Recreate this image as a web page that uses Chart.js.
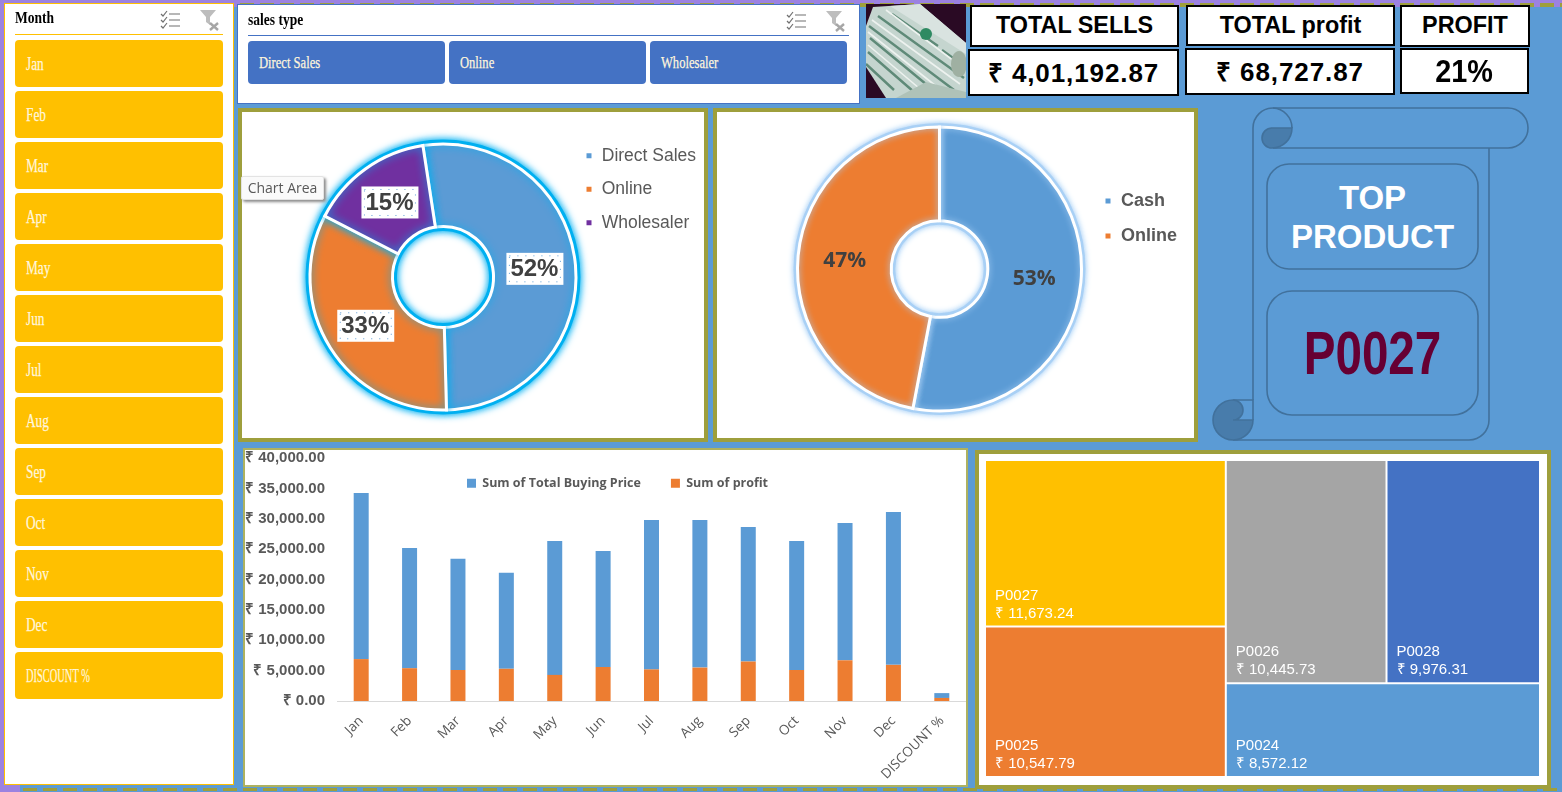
<!DOCTYPE html>
<html>
<head>
<meta charset="utf-8">
<title>Sales dashboard</title>
<script src="https://cdn.jsdelivr.net/npm/chart.js@4"></script>
<style>
  html, body { margin: 0; padding: 0; }
  body { width: 1562px; height: 792px; position: relative; overflow: hidden; background: #5B9BD5; font-family: "Liberation Sans", Arial, sans-serif; }
  .abs, canvas { position: absolute; box-sizing: border-box; }
  .panel { position: absolute; box-sizing: border-box; background: #fff; }
  .olive { border: 4px solid #9E9F3C; }
  .thin { border: 2px solid #AEB25F; }
  .slicerName { position: absolute; font: bold 16.5px "Liberation Serif", serif; color: #000; transform: scaleX(.82); transform-origin: left center; white-space: nowrap; }
  .btn { position: absolute; box-sizing: border-box; border-radius: 4px; color: #FFF6DC; }
  .btn span { position: absolute; left: 11px; top: 50%; transform: translateY(-50%) scaleX(.74); transform-origin: left center; font: 18px "Liberation Serif", serif; white-space: nowrap; -webkit-text-stroke: .25px #FFF6DC; }
  .btn span.long { transform: translateY(-50%) scaleX(.58); }
  .kpi { position: absolute; box-sizing: border-box; border: 2px solid #000; background: #fff; color: #000; font-weight: bold; text-align: center; white-space: nowrap; }
  .kpi.money { font-size: 26px; line-height: 44px; letter-spacing: .9px; }
  .kpi.head { font-size: 23.4px; line-height: 37px; }
  .hint { position: absolute; left: 241px; top: 176px; width: 83px; height: 24px; box-sizing: border-box; background: #fafafa; border: 1px solid #e3e3e3; border-radius: 2px; box-shadow: 2px 2px 3px #8a8a8a; font: 14px/22px "Open Sans", sans-serif; color: #595959; text-align: center; }
</style>
</head>
<body>
<div class="abs" style="left:0;top:0;width:1562px;height:3px;background:#9C82E0"></div>
<div class="abs" style="left:0;top:3px;width:1562px;height:4px;background:repeating-linear-gradient(90deg,#9E9F3C 0 14px,#9C82E0 14px 20px)"></div>
<div class="abs" style="left:0;top:0;width:4px;height:792px;background:#9C82E0"></div>
<div class="abs" style="left:0;top:785px;width:20px;height:7px;background:#9C82E0"></div>
<div class="abs" style="left:23px;top:788px;width:1539px;height:3px;background:repeating-linear-gradient(90deg,#9E9F3C 0 14px,#5B9BD5 14px 20px)"></div>

<div class="panel" id="monthPanel" style="left:4px;top:3px;width:230px;height:782px;border:1px solid #FFC000">
  <div class="slicerName" style="left:10px;top:4px">Month</div>
  <div class="abs" style="left:10px;top:30px;width:208px;height:1px;background:#FFC000"></div>
</div>
<div class="panel" id="typePanel" style="left:237px;top:4px;width:623px;height:100px;border:1px solid #4472C4">
  <div class="slicerName" style="left:10px;top:5px">sales type</div>
  <div class="abs" style="left:10px;top:30px;width:601px;height:1px;background:#4472C4"></div>
</div>

<svg class="abs" style="left:160px;top:9px" width="62" height="22" fill="none">
  <path d="M1 5l2 2 4-5M1 11l2 2 4-5M1 17l2 2 4-5" stroke="#707070" stroke-width="1.2"/>
  <path d="M9 5h11M9 11h11M9 17h11" stroke="#707070" stroke-width="1.2"/>
  <path d="M40 1h16l-6 7v8l-4-3V8z" fill="#BDBDBD"/>
  <path d="M50 14l8 7M58 14l-8 7" stroke="#A6A6A6" stroke-width="2.4"/>
</svg>
<svg class="abs" style="left:786px;top:10px" width="62" height="22" fill="none">
  <path d="M1 5l2 2 4-5M1 11l2 2 4-5M1 17l2 2 4-5" stroke="#707070" stroke-width="1.2"/>
  <path d="M9 5h11M9 11h11M9 17h11" stroke="#707070" stroke-width="1.2"/>
  <path d="M40 1h16l-6 7v8l-4-3V8z" fill="#BDBDBD"/>
  <path d="M50 14l8 7M58 14l-8 7" stroke="#A6A6A6" stroke-width="2.4"/>
</svg>

<svg class="abs" style="left:866px;top:4px" width="100" height="94">
  <defs><filter id="soft"><feGaussianBlur stdDeviation=".7"/></filter></defs>
  <rect width="100" height="94" fill="#2A0A24"/>
  <g filter="url(#soft)">
    <polygon points="0,22 7,3 54,0 100,39 100,94 20,94 0,63" fill="#C5D5CF"/>
    <polygon points="24,2 54,0 100,39 100,50" fill="#D9E3E0"/>
    <g stroke="#5E8A78" stroke-width="2.4" fill="none">
      <path d="M3 22L88 86M4 34L72 90M2 48L48 88M12 12L98 74M26 10L72 42M76 46L98 62M0 60L28 86"/>
    </g>
    <g stroke="#EDF2EF" stroke-width="1.6" fill="none">
      <path d="M2 28L80 90M2 41L60 90M6 16L94 80M20 6L100 66"/>
    </g>
    <circle cx="60" cy="30" r="6" fill="#2F8A62"/>
    <ellipse cx="93" cy="60" rx="8" ry="13" fill="#9FB0A2"/>
    <polygon points="30,94 100,94 100,88 60,78" fill="#AFC2B8"/>
  </g>
</svg>

<div class="kpi head" style="left:970px;top:5px;width:209px;height:42px">TOTAL SELLS</div>
<div class="kpi money" style="left:968px;top:49px;width:211px;height:47px">₹ 4,01,192.87</div>
<div class="kpi head" style="left:1186px;top:5px;width:209px;height:41px">TOTAL profit</div>
<div class="kpi money" style="left:1185px;top:48px;width:210px;height:47px">₹ 68,727.87</div>
<div class="kpi head" style="left:1400px;top:5px;width:130px;height:42px">PROFIT</div>
<div class="kpi" style="left:1400px;top:48px;width:129px;height:46px;font-size:32px;line-height:43px"><span style="display:inline-block;transform:scaleX(.9)">21%</span></div>

<div class="panel olive" style="left:238px;top:108px;width:470px;height:334px"></div>
<div class="panel olive" style="left:713px;top:108px;width:485px;height:334px"></div>
<div class="panel thin" style="left:243px;top:448px;width:725px;height:339px"></div>
<div class="panel olive" style="left:975px;top:450px;width:576px;height:339px"></div>

<svg class="abs" style="left:1205px;top:100px" width="340" height="350" viewBox="1205 100 340 350" fill="none" stroke="#41719C" stroke-width="1.6">
  <path d="M1253 400V128A20 20 0 0 1 1273 108H1508A20 20 0 0 1 1508 148H1273"/>
  <path d="M1489 148V420A20 20 0 0 1 1469 440H1233"/>
  <path d="M1273 108A20 20 0 0 1 1292 128"/>
  <path d="M1292 128H1272A10 10 0 0 0 1272 148A20 20 0 0 0 1292 128Z" fill="#487CAB"/>
  <path d="M1233 400H1253V420"/>
  <path d="M1233 400A20 20 0 0 0 1233 440A20 20 0 0 0 1253 420H1233A10 10 0 0 0 1233 400Z" fill="#487CAB"/>
  <rect x="1267" y="164" width="211" height="105" rx="22"/>
  <rect x="1267" y="291" width="211" height="124" rx="25"/>
</svg>
<div class="abs" style="left:1267px;top:178px;width:211px;text-align:center;font-weight:bold;font-size:33px;line-height:39px;color:#fff">TOP<br>PRODUCT</div>
<div class="abs" style="left:1267px;top:318px;width:211px;text-align:center;font-weight:bold;font-size:61px;line-height:70px;color:#660033;transform:scaleX(.78)">P0027</div>

<canvas id="typeChart" width="461" height="326" style="left:242px;top:112px"></canvas>
<canvas id="payChart" width="477" height="326" style="left:717px;top:112px"></canvas>
<canvas id="monthChart" width="721" height="348" style="left:245px;top:437px"></canvas>
<canvas id="productChart" width="555" height="317" style="left:985px;top:460px"></canvas>
<div class="hint">Chart Area</div>

<script>
const months = ["Jan", "Feb", "Mar", "Apr", "May", "Jun", "Jul", "Aug", "Sep", "Oct", "Nov", "Dec", "DISCOUNT %"];
const salesTypes = ["Direct Sales", "Online", "Wholesaler"];
const salesTypeShare = [52, 33, 15];
const payTypes = ["Cash", "Online"];
const payShare = [53, 47];
const buyingPrice = [27350, 19800, 18300, 15800, 22050, 19100, 24600, 24300, 22150, 21250, 22600, 25150, 800];
const profit = [6900, 5400, 5100, 5300, 4300, 5600, 5200, 5500, 6500, 5100, 6700, 5950, 500];
const products = ["P0027", "P0025", "P0026", "P0028", "P0024"];
const productProfit = [11673.24, 10547.79, 10445.73, 9976.31, 8572.12];
const productColors = ["#FFC000", "#ED7D31", "#A5A5A5", "#4472C4", "#5B9BD5"];

// slicer buttons
const monthPanel = document.getElementById("monthPanel");
months.forEach((m, i) => {
  monthPanel.insertAdjacentHTML("beforeend",
    `<div class="btn" style="left:10px;top:${36 + i * 51}px;width:208px;height:47px;background:#FFC000"><span class="${m.length > 3 ? "long" : ""}">${m}</span></div>`);
});
const typePanel = document.getElementById("typePanel");
salesTypes.forEach((t, i) => {
  typePanel.insertAdjacentHTML("beforeend",
    `<div class="btn" style="left:${10 + i * 201}px;top:36px;width:197px;height:43px;background:#4472C4"><span style="font-size:17px">${t}</span></div>`);
});

// moves the legend to a fixed spot without taking room from the plot
const placeLegend = {
  id: "placeLegend",
  beforeLayout(chart) {
    const legend = chart.legend;
    if (legend._wrapped) return;
    const fit = legend.fit;
    legend.fit = function () { fit.call(this); if (this.options.position === "top") this.height = 0; };
    legend._wrapped = true;
  },
  afterLayout(chart, args, opts) {
    const legend = chart.legend;
    const pad = legend.options.labels.padding;
    legend.left = opts.x - pad;
    legend.top = opts.y - pad;
    legend.right = chart.width;
    legend.bottom = chart.height;
  }
};

const glow = {
  id: "glow",
  beforeDatasetDraw(chart, args, opts) {
    const ctx = chart.ctx;
    const arc = chart.getDatasetMeta(0).data[0];
    ctx.save();
    ctx.shadowColor = opts.color;
    ctx.shadowBlur = opts.blur;
    ctx.strokeStyle = opts.color;
    ctx.lineWidth = opts.ring;
    [arc.outerRadius, arc.innerRadius].forEach(r => {
      ctx.beginPath();
      ctx.arc(arc.x, arc.y, r, 0, Math.PI * 2);
      ctx.stroke();
    });
  },
  afterDatasetDraw(chart) {
    chart.ctx.restore();
  }
};

const sliceLabels = {
  id: "sliceLabels",
  afterDatasetsDraw(chart, args, opts) {
    const ctx = chart.ctx;
    const values = chart.data.datasets[0].data;
    chart.getDatasetMeta(0).data.forEach((arc, i) => {
      const p = arc.getCenterPoint();
      ctx.save();
      if (opts.box) {
        ctx.fillStyle = "#fff";
        ctx.fillRect(p.x - 28, p.y - 16, 57, 32);
        ctx.strokeStyle = "#5B9BD5";
        ctx.setLineDash([1, 7]);
        ctx.strokeRect(p.x - 25, p.y - 13, 51, 26);
        ctx.setLineDash([]);
      }
      ctx.fillStyle = "#404040";
      ctx.font = opts.font;
      ctx.textAlign = "center";
      ctx.textBaseline = "middle";
      ctx.fillText(values[i] + "%", p.x, p.y + 1);
      ctx.restore();
    });
  }
};

function donut(id, labels, values, colors, o) {
  return new Chart(document.getElementById(id), {
    type: "doughnut",
    data: {
      labels: labels,
      datasets: [{
        data: values,
        backgroundColor: colors,
        borderColor: "#fff",
        borderWidth: 3,
        borderAlign: "center",
        borderJoinStyle: "miter",
        radius: o.radius,
        cutout: o.cutout,
        rotation: o.rotation
      }]
    },
    options: {
      responsive: false,
      animation: false,
      events: [],
      layout: { padding: o.padding },
      plugins: {
        tooltip: { enabled: false },
        legend: {
          position: "chartArea",
          align: "start",
          labels: { boxWidth: 8, boxHeight: 8, padding: o.legendPad, color: "#595959", font: o.legendFont }
        },
        placeLegend: o.legendAt,
        glow: o.glow,
        sliceLabels: o.labels
      }
    },
    plugins: [placeLegend, glow, sliceLabels]
  });
}

donut("typeChart", salesTypes, salesTypeShare, ["#5B9BD5", "#ED7D31", "#7030A0"], {
  radius: 133, cutout: "38%", rotation: -8.7,
  padding: { top: 4, right: 59 },
  legendPad: 16,
  legendFont: { size: 17.5, family: "Liberation Sans" },
  legendAt: { x: 343, y: 35 },
  glow: { color: "#00B0F0", blur: 9, ring: 9 },
  labels: { box: true, font: "bold 24px 'Liberation Sans'" }
});

donut("payChart", payTypes, payShare, ["#5B9BD5", "#ED7D31"], {
  radius: 142, cutout: "34%", rotation: 0,
  padding: { bottom: 12, right: 32 },
  legendPad: 17,
  legendFont: { size: 18, weight: "bold", family: "Liberation Sans" },
  legendAt: { x: 387, y: 80 },
  glow: { color: "#A9D0F5", blur: 6, ring: 8 },
  labels: { box: false, font: "bold 21px 'Open Sans'" }
});

new Chart(document.getElementById("monthChart"), {
  type: "bar",
  data: {
    labels: months,
    datasets: [
      { label: "Sum of profit", data: profit, backgroundColor: "#ED7D31", categoryPercentage: 1, barPercentage: 0.31 },
      { label: "Sum of Total Buying Price", data: buyingPrice, backgroundColor: "#5B9BD5", categoryPercentage: 1, barPercentage: 0.31 }
    ]
  },
  options: {
    responsive: false,
    animation: false,
    events: [],
    scales: {
      x: {
        stacked: true,
        grid: { display: false },
        border: { color: "#D9D9D9", width: 1 },
        ticks: { minRotation: 45, maxRotation: 45, autoSkip: false, color: "#595959", font: { size: 13.5, family: "Open Sans" }, padding: 4 },
        afterFit(scale) { scale.height = 84; }
      },
      y: {
        stacked: true,
        min: 0,
        max: 40000,
        grid: { display: false, drawTicks: false },
        border: { display: false },
        ticks: {
          stepSize: 5000,
          padding: 12,
          color: "#595959",
          font: { size: 15, weight: "bold", family: "Liberation Sans" },
          callback: v => "₹ " + v.toLocaleString("en-IN", { minimumFractionDigits: 2, maximumFractionDigits: 2 })
        },
        afterFit(scale) { scale.width = 92; }
      }
    },
    plugins: {
      tooltip: { enabled: false },
      legend: {
        position: "top",
        align: "start",
        labels: {
          boxWidth: 9, boxHeight: 9, padding: 30, color: "#595959",
          font: { size: 12.5, weight: "bold", family: "Open Sans" },
          sort: (a, b) => b.datasetIndex - a.datasetIndex
        }
      },
      placeLegend: { x: 222, y: 40 }
    }
  },
  plugins: [placeLegend]
});

// treemap layout, in shares of the plot, worked out from the values
const productTotal = productProfit.reduce((a, b) => a + b, 0);
const leftShare = (productProfit[0] + productProfit[1]) / productTotal;
const leftSplit = productProfit[0] / (productProfit[0] + productProfit[1]);
const rightRow = productProfit[2] + productProfit[3];
const rightSplit = rightRow / (rightRow + productProfit[4]);
const columnSplit = leftShare + (1 - leftShare) * productProfit[2] / rightRow;
const tiles = [
  { x: [0, leftShare], y: [0, leftSplit] },
  { x: [0, leftShare], y: [leftSplit, 1] },
  { x: [leftShare, columnSplit], y: [0, rightSplit] },
  { x: [columnSplit, 1], y: [0, rightSplit] },
  { x: [leftShare, 1], y: [rightSplit, 1] }
];

const tilePlugin = {
  id: "tilePlugin",
  afterDatasetsUpdate(chart) {
    const xs = chart.scales.share;
    chart.getDatasetMeta(0).data.forEach((bar, i) => {
      const a = xs.getPixelForValue(tiles[i].x[0]);
      const b = xs.getPixelForValue(tiles[i].x[1]);
      bar.x = (a + b) / 2;
      bar.width = b - a;
    });
  },
  afterDatasetsDraw(chart) {
    const ctx = chart.ctx;
    const xs = chart.scales.share;
    const ys = chart.scales.y;
    ctx.save();
    ctx.fillStyle = "#fff";
    ctx.font = "15px 'Liberation Sans'";
    ctx.textBaseline = "alphabetic";
    tiles.forEach((t, i) => {
      const left = xs.getPixelForValue(t.x[0]) + 10;
      const bottom = ys.getPixelForValue(t.y[1]);
      ctx.fillText(products[i], left, bottom - 27);
      ctx.fillText("₹ " + productProfit[i].toLocaleString("en-IN", { minimumFractionDigits: 2 }), left, bottom - 9);
    });
    ctx.restore();
  }
};

new Chart(document.getElementById("productChart"), {
  type: "bar",
  data: {
    labels: products,
    datasets: [{
      data: tiles.map(t => t.y),
      backgroundColor: productColors,
      borderColor: "#fff",
      borderWidth: 1,
      borderSkipped: false
    }]
  },
  options: {
    responsive: false,
    animation: false,
    events: [],
    scales: {
      x: { display: false },
      share: { type: "linear", axis: "x", display: false, offset: false, min: 0, max: 1 },
      y: { display: false, min: 0, max: 1, reverse: true }
    },
    plugins: { tooltip: { enabled: false }, legend: { display: false } }
  },
  plugins: [tilePlugin]
});
</script>
</body>
</html>
